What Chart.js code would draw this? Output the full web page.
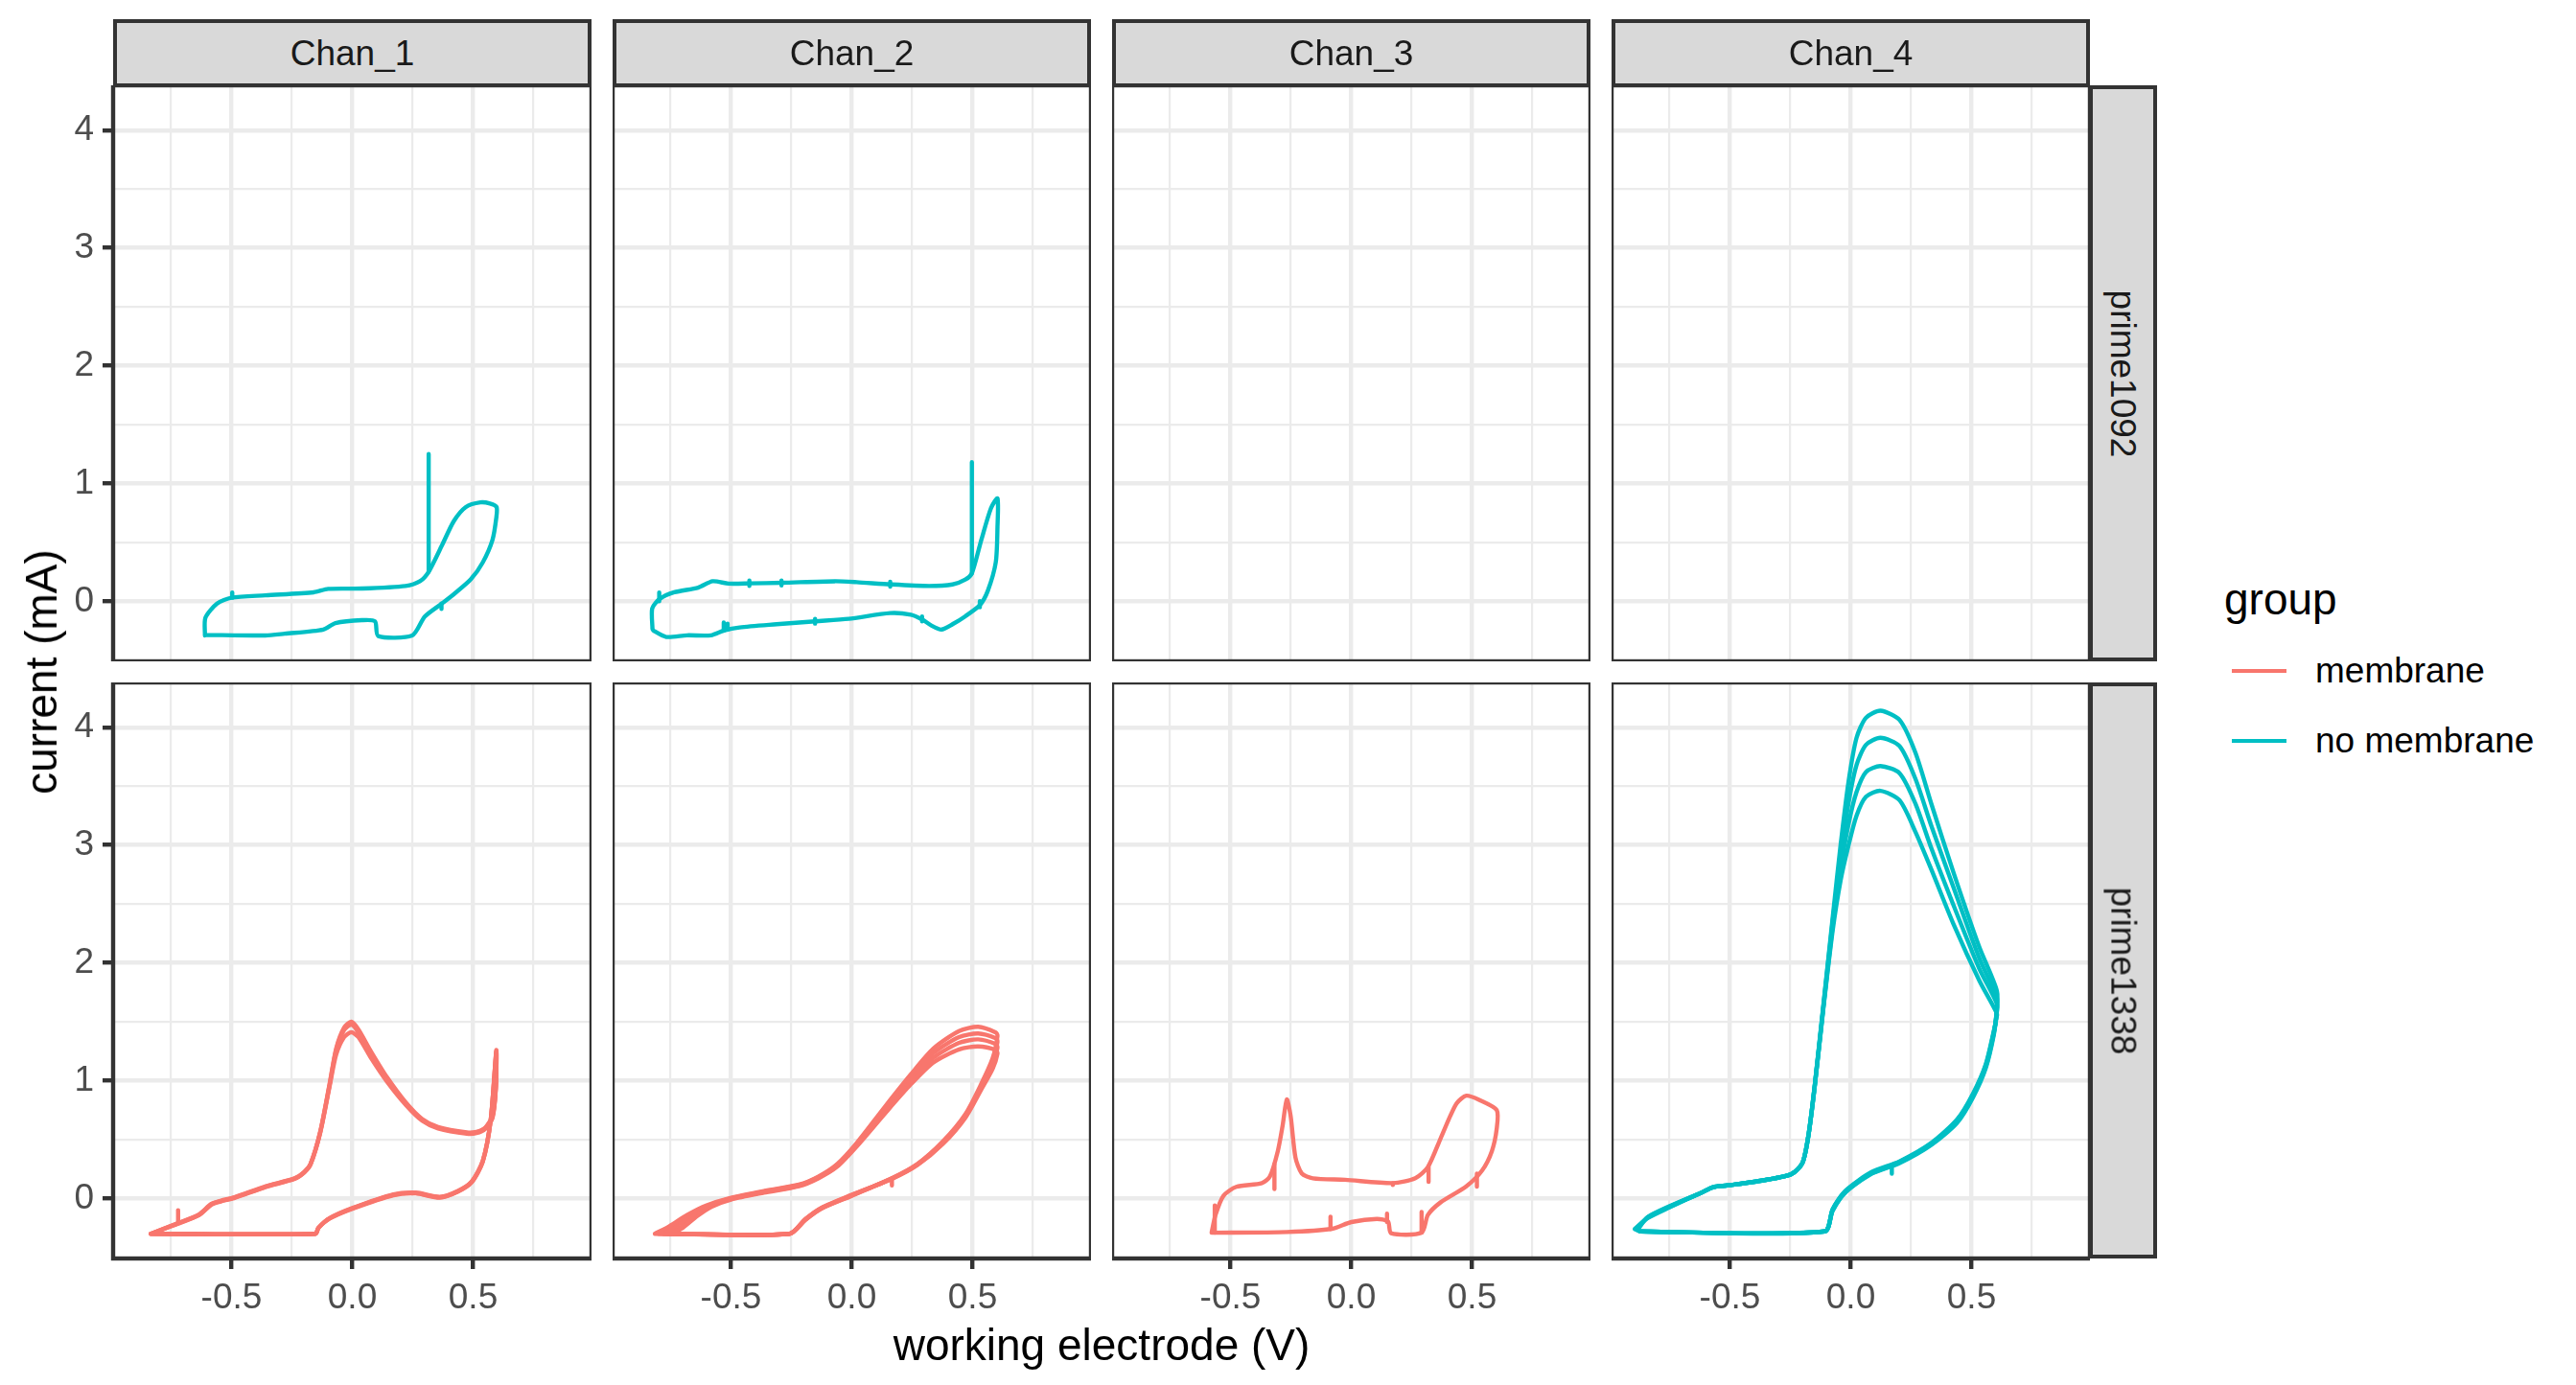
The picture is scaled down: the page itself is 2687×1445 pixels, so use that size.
<!DOCTYPE html>
<html>
<head>
<meta charset="utf-8">
<script src="https://cdn.jsdelivr.net/npm/chart.js@4.4.0/dist/chart.umd.min.js"></script>
<style>
  html, body { margin: 0; padding: 0; background: #fff; }
  body { width: 2687px; height: 1445px; position: relative; overflow: hidden;
         font-family: "Liberation Sans", Arial, Helvetica, sans-serif; }
  canvas { position: absolute; }
  .strip { position: absolute; box-sizing: border-box; background: #D9D9D9; border: 4px solid #333;
           color: #1A1A1A; font-size: 37px; display: flex; align-items: center; justify-content: center; }
  .strip.side span { transform: rotate(90deg); white-space: nowrap; }
  .txt { position: absolute; white-space: nowrap; color: #000; }
</style>
</head>
<body>
<script>
(function () {
  'use strict';

  const COLS = ['Chan_1', 'Chan_2', 'Chan_3', 'Chan_4'];
  const ROWS = ['prime1092', 'prime1338'];
  const GROUPS = ['membrane', 'no membrane'];
  const GROUP_COLORS = ['#F8766D', '#00BFC4'];
  const X_TICKS = [-0.75, -0.5, -0.25, 0, 0.25, 0.5, 0.75];
  const Y_TICKS = [0, 0.5, 1, 1.5, 2, 2.5, 3, 3.5, 4];

  // current (mA) vs working electrode (V)
  const chan1_1092 = [[-0.61,-0.29],[-0.608,-0.14],[-0.56,-0.02],[-0.50,0.03],[-0.36,0.05],[-0.16,0.076],[-0.10,0.105],[0.04,0.108],[0.22,0.13],[0.28,0.17],[0.316,0.25],[0.37,0.47],[0.42,0.68],[0.47,0.80],[0.53,0.84],[0.57,0.83],[0.597,0.80],[0.596,0.71],[0.58,0.52],[0.54,0.33],[0.49,0.185],[0.42,0.06],[0.37,-0.02],[0.30,-0.13],[0.248,-0.29],[0.107,-0.295],[0.094,-0.17],[0.04,-0.16],[-0.07,-0.185],[-0.12,-0.24],[-0.28,-0.275],[-0.36,-0.29],[-0.61,-0.285]];
  const chan1_1092_spikes = [[0.316,0.25,1.25],[-0.497,0.03,0.075],[0.369,-0.02,-0.065]];

  const chan2_1092 = [[-0.825,-0.235],[-0.826,-0.06],[-0.795,0.02],[-0.735,0.076],[-0.636,0.116],[-0.576,0.17],[-0.51,0.15],[-0.42,0.152],[-0.29,0.157],[-0.07,0.17],[0.02,0.162],[0.16,0.143],[0.32,0.13],[0.417,0.143],[0.47,0.184],[0.497,0.238],[0.536,0.52],[0.576,0.79],[0.603,0.873],[0.603,0.63],[0.596,0.332],[0.563,0.089],[0.53,-0.032],[0.47,-0.127],[0.417,-0.195],[0.371,-0.24],[0.331,-0.208],[0.291,-0.154],[0.245,-0.114],[0.159,-0.10],[-0.013,-0.149],[-0.152,-0.17],[-0.311,-0.195],[-0.464,-0.222],[-0.53,-0.249],[-0.583,-0.289],[-0.682,-0.289],[-0.768,-0.303],[-0.821,-0.249],[-0.825,-0.235]];
  const chan2_1092_spikes = [[0.497,0.238,1.18],[-0.797,0.0,0.075],[-0.424,0.13,0.175],[-0.291,0.135,0.175],[0.159,0.125,0.165],[-0.53,-0.25,-0.18],[-0.514,-0.24,-0.19],[0.53,-0.05,0.0],[-0.152,-0.19,-0.15],[0.291,-0.17,-0.13]];

  const chan1_1338_a = [[-0.834,-0.30],[-0.153,-0.30],[-0.14,-0.25],[-0.094,-0.168],[0,-0.082],[0.17,0.035],[0.263,0.049],[0.362,0.014],[0.435,0.062],[0.494,0.144],[0.54,0.32],[0.573,0.674],[0.596,1.258],[0.594,0.95],[0.58,0.70],[0.55,0.60],[0.514,0.565],[0.474,0.56],[0.355,0.606],[0.289,0.674],[0.223,0.81],[0.144,1.027],[0.078,1.245],[0.025,1.435],[-0.004,1.50],[-0.034,1.45],[-0.067,1.272],[-0.094,0.973],[-0.133,0.565],[-0.173,0.293],[-0.199,0.226],[-0.239,0.171],[-0.358,0.103],[-0.49,0.008],[-0.543,-0.019],[-0.583,-0.046],[-0.635,-0.136],[-0.721,-0.209],[-0.834,-0.30]];
  const chan1_1338_b = [[-0.834,-0.30],[-0.153,-0.30],[-0.14,-0.25],[-0.094,-0.17],[0,-0.085],[0.17,0.03],[0.263,0.045],[0.362,0.01],[0.435,0.058],[0.494,0.14],[0.54,0.315],[0.573,0.67],[0.596,1.25],[0.594,0.94],[0.58,0.69],[0.55,0.595],[0.514,0.56],[0.474,0.555],[0.355,0.60],[0.289,0.668],[0.223,0.80],[0.144,1.01],[0.078,1.22],[0.025,1.41],[-0.004,1.475],[-0.034,1.43],[-0.067,1.26],[-0.094,0.965],[-0.133,0.56],[-0.173,0.29],[-0.199,0.222],[-0.239,0.168],[-0.358,0.10],[-0.49,0.005],[-0.543,-0.022],[-0.583,-0.05],[-0.635,-0.14],[-0.721,-0.212],[-0.834,-0.30]];
  const chan1_1338_c = [[-0.834,-0.30],[-0.153,-0.30],[-0.14,-0.25],[-0.094,-0.172],[0,-0.088],[0.17,0.027],[0.263,0.042],[0.362,0.006],[0.435,0.055],[0.494,0.136],[0.54,0.31],[0.573,0.665],[0.596,1.24],[0.594,0.93],[0.58,0.68],[0.55,0.59],[0.514,0.555],[0.474,0.55],[0.355,0.594],[0.289,0.66],[0.223,0.79],[0.144,0.99],[0.078,1.19],[0.025,1.37],[-0.004,1.41],[-0.034,1.37],[-0.067,1.22],[-0.094,0.95],[-0.133,0.555],[-0.173,0.287],[-0.199,0.22],[-0.239,0.165],[-0.358,0.097],[-0.49,0.002],[-0.543,-0.025],[-0.583,-0.053],[-0.635,-0.143],[-0.721,-0.215],[-0.834,-0.30]];
  const chan1_1338_spikes = [[-0.721,-0.21,-0.10]];

  const chan2_1338_a = [[-0.815,-0.30],[-0.258,-0.30],[-0.192,-0.182],[-0.126,-0.087],[0,0.022],[0.166,0.171],[0.272,0.293],[0.377,0.484],[0.47,0.715],[0.536,0.973],[0.583,1.19],[0.603,1.38],[0.596,1.408],[0.523,1.457],[0.444,1.42],[0.338,1.272],[0.245,1.054],[0.139,0.783],[0.02,0.47],[-0.06,0.293],[-0.139,0.185],[-0.219,0.117],[-0.364,0.063],[-0.51,0],[-0.603,-0.06],[-0.682,-0.141],[-0.755,-0.236],[-0.815,-0.30]];
  const chan2_1338_b = [[-0.80,-0.30],[-0.258,-0.30],[-0.192,-0.18],[-0.126,-0.085],[0,0.025],[0.166,0.17],[0.272,0.29],[0.377,0.478],[0.47,0.705],[0.536,0.955],[0.583,1.16],[0.603,1.33],[0.596,1.36],[0.523,1.40],[0.444,1.37],[0.338,1.235],[0.245,1.03],[0.139,0.765],[0.02,0.46],[-0.06,0.285],[-0.139,0.18],[-0.219,0.113],[-0.364,0.058],[-0.51,-0.005],[-0.603,-0.07],[-0.67,-0.15],[-0.74,-0.25],[-0.80,-0.30]];
  const chan2_1338_c = [[-0.78,-0.30],[-0.258,-0.30],[-0.192,-0.178],[-0.126,-0.083],[0,0.028],[0.166,0.168],[0.272,0.287],[0.377,0.47],[0.47,0.695],[0.536,0.94],[0.583,1.13],[0.603,1.28],[0.596,1.31],[0.523,1.35],[0.444,1.32],[0.338,1.195],[0.245,1.0],[0.139,0.745],[0.02,0.45],[-0.06,0.278],[-0.139,0.175],[-0.219,0.108],[-0.364,0.053],[-0.51,-0.01],[-0.59,-0.07],[-0.65,-0.15],[-0.72,-0.26],[-0.78,-0.30]];
  const chan2_1338_d = [[-0.75,-0.30],[-0.258,-0.30],[-0.192,-0.175],[-0.126,-0.08],[0,0.03],[0.166,0.165],[0.272,0.283],[0.377,0.462],[0.47,0.685],[0.536,0.925],[0.583,1.10],[0.603,1.23],[0.596,1.26],[0.523,1.29],[0.444,1.265],[0.338,1.155],[0.245,0.97],[0.139,0.725],[0.02,0.44],[-0.06,0.27],[-0.139,0.17],[-0.219,0.103],[-0.364,0.048],[-0.50,-0.01],[-0.58,-0.07],[-0.64,-0.15],[-0.70,-0.25],[-0.75,-0.30]];
  const chan2_1338_spikes = [[0.166,0.17,0.11]];

  const chan3_1338 = [[-0.578,-0.29],[-0.562,-0.141],[-0.529,0.022],[-0.476,0.098],[-0.37,0.13],[-0.337,0.185],[-0.304,0.402],[-0.284,0.62],[-0.267,0.84],[-0.251,0.70],[-0.231,0.348],[-0.205,0.212],[-0.159,0.171],[-0.026,0.158],[0.172,0.13],[0.265,0.171],[0.317,0.266],[0.37,0.511],[0.41,0.701],[0.437,0.81],[0.476,0.872],[0.529,0.837],[0.602,0.75],[0.602,0.592],[0.582,0.402],[0.542,0.239],[0.476,0.103],[0.37,-0.033],[0.317,-0.141],[0.291,-0.291],[0.165,-0.296],[0.152,-0.196],[0.106,-0.174],[0,-0.201],[-0.079,-0.258],[-0.265,-0.285],[-0.578,-0.291]];
  const chan3_1338_spikes = [[-0.565,-0.29,-0.06],[-0.318,0.29,0.08],[0.32,0.27,0.14],[0.52,0.21,0.10],[0.291,-0.29,-0.115],[0.148,-0.20,-0.13],[-0.086,-0.26,-0.155],[0.172,0.13,0.115]];

  const chan4_1338_a = [[-0.894,-0.26],[-0.87,-0.28],[-0.108,-0.28],[-0.075,-0.106],[-0.022,0.05],[0.083,0.205],[0.202,0.299],[0.334,0.454],[0.44,0.641],[0.506,0.858],[0.559,1.107],[0.592,1.387],[0.603,1.574],[0.605,1.76],[0.532,2.134],[0.427,2.756],[0.334,3.347],[0.268,3.782],[0.202,4.062],[0.123,4.14],[0.063,4.08],[0.024,3.91],[-0.009,3.54],[-0.042,3.0],[-0.075,2.38],[-0.115,1.61],[-0.148,0.98],[-0.174,0.55],[-0.2,0.30],[-0.247,0.205],[-0.392,0.143],[-0.511,0.11],[-0.57,0.096],[-0.617,0.05],[-0.749,-0.075],[-0.841,-0.168],[-0.894,-0.26]];
  const chan4_1338_b = [[-0.89,-0.26],[-0.87,-0.28],[-0.108,-0.28],[-0.075,-0.10],[-0.022,0.055],[0.083,0.21],[0.202,0.305],[0.334,0.46],[0.44,0.65],[0.506,0.87],[0.559,1.12],[0.592,1.40],[0.603,1.56],[0.605,1.70],[0.532,2.04],[0.427,2.63],[0.334,3.16],[0.268,3.56],[0.202,3.84],[0.123,3.91],[0.063,3.85],[0.024,3.68],[-0.009,3.36],[-0.042,2.9],[-0.075,2.35],[-0.115,1.60],[-0.148,0.98],[-0.174,0.55],[-0.2,0.30],[-0.247,0.205],[-0.392,0.143],[-0.511,0.11],[-0.57,0.096],[-0.617,0.05],[-0.749,-0.07],[-0.841,-0.165],[-0.89,-0.26]];
  const chan4_1338_c = [[-0.885,-0.26],[-0.87,-0.28],[-0.108,-0.28],[-0.075,-0.095],[-0.022,0.06],[0.083,0.215],[0.202,0.31],[0.334,0.466],[0.44,0.66],[0.506,0.88],[0.559,1.13],[0.592,1.41],[0.603,1.55],[0.605,1.65],[0.532,1.95],[0.427,2.48],[0.334,2.97],[0.268,3.35],[0.202,3.61],[0.123,3.67],[0.063,3.62],[0.024,3.45],[-0.009,3.18],[-0.042,2.8],[-0.075,2.31],[-0.115,1.59],[-0.148,0.97],[-0.174,0.55],[-0.2,0.30],[-0.247,0.205],[-0.392,0.143],[-0.511,0.11],[-0.57,0.096],[-0.617,0.05],[-0.749,-0.07],[-0.841,-0.16],[-0.885,-0.26]];
  const chan4_1338_d = [[-0.88,-0.26],[-0.87,-0.28],[-0.108,-0.28],[-0.075,-0.09],[-0.022,0.065],[0.083,0.22],[0.202,0.315],[0.334,0.472],[0.44,0.67],[0.506,0.89],[0.559,1.14],[0.592,1.42],[0.603,1.53],[0.605,1.57],[0.532,1.85],[0.427,2.32],[0.334,2.79],[0.268,3.11],[0.202,3.38],[0.123,3.46],[0.063,3.41],[0.024,3.25],[-0.009,3.0],[-0.042,2.7],[-0.075,2.27],[-0.115,1.58],[-0.148,0.97],[-0.174,0.55],[-0.2,0.30],[-0.247,0.205],[-0.392,0.143],[-0.511,0.11],[-0.57,0.096],[-0.617,0.05],[-0.749,-0.065],[-0.841,-0.16],[-0.88,-0.26]];
  const chan4_1338_spikes = [[0.17,0.28,0.21]];

  // row, col, group index, curves, spikes
  const panels = [
    { row: 0, col: 0, g: 1, curves: [chan1_1092], spikes: chan1_1092_spikes },
    { row: 0, col: 1, g: 1, curves: [chan2_1092], spikes: chan2_1092_spikes },
    { row: 0, col: 2, g: 1, curves: [], spikes: [] },
    { row: 0, col: 3, g: 1, curves: [], spikes: [] },
    { row: 1, col: 0, g: 0, curves: [chan1_1338_a, chan1_1338_b, chan1_1338_c], spikes: chan1_1338_spikes },
    { row: 1, col: 1, g: 0, curves: [chan2_1338_a, chan2_1338_b, chan2_1338_c, chan2_1338_d], spikes: chan2_1338_spikes },
    { row: 1, col: 2, g: 0, curves: [chan3_1338], spikes: chan3_1338_spikes },
    { row: 1, col: 3, g: 1, curves: [chan4_1338_a, chan4_1338_b, chan4_1338_c, chan4_1338_d], spikes: chan4_1338_spikes },
  ];

  // layout (px)
  const COL_L = [118, 639, 1160, 1681];
  const ROW_T = [89, 712];
  const PW = 499, PH = 601;
  const AX = 118, AY = 72;
  const FONT = '"Liberation Sans", Arial, Helvetica, sans-serif';
  const LW = 4.4;

  const isMajorX = v => Math.abs(v * 2 - Math.round(v * 2)) < 1e-6;
  const isMajorY = v => Math.abs(v - Math.round(v)) < 1e-6;

  function curve(pts, color) {
    return {
      data: pts.map(p => ({ x: p[0], y: p[1] })),
      showLine: true, borderColor: color, borderWidth: LW, pointRadius: 0,
      tension: 0.25, fill: false, borderJoinStyle: 'round', borderCapStyle: 'round',
    };
  }

  function spikeSet(list, color) {
    const pts = [];
    list.forEach(s => { pts.push({ x: s[0], y: s[1] }, { x: s[0], y: s[2] }, { x: s[0], y: null }); });
    return {
      data: pts, showLine: true, spanGaps: false, borderColor: color, borderWidth: LW,
      pointRadius: 0, tension: 0, fill: false, borderCapStyle: 'round',
    };
  }

  const borderPlugin = {
    id: 'panelBorder',
    afterDraw(chart) {
      const a = chart.chartArea, ctx = chart.ctx;
      ctx.save();
      ctx.strokeStyle = '#333333';
      ctx.lineWidth = LW;
      ctx.strokeRect(a.left, a.top, a.right - a.left, a.bottom - a.top);
      ctx.restore();
    },
  };

  function zeroPad(s) { s.paddingTop = 0; s.paddingBottom = 0; s.paddingLeft = 0; s.paddingRight = 0; }

  panels.forEach(p => {
    const showY = p.col === 0, showX = p.row === 1;
    const cv = document.createElement('canvas');
    const w = PW + (showY ? AX : 0), h = PH + (showX ? AY : 0);
    cv.width = w; cv.height = h;
    cv.style.left = (COL_L[p.col] - (showY ? AX : 0)) + 'px';
    cv.style.top = ROW_T[p.row] + 'px';
    document.body.appendChild(cv);

    const color = GROUP_COLORS[p.g];
    const datasets = p.curves.map(c => curve(c, color));
    if (p.spikes.length) datasets.push(spikeSet(p.spikes, color));

    new Chart(cv, {
      type: 'scatter',
      data: { datasets },
      plugins: [borderPlugin],
      options: {
        responsive: false,
        animation: false,
        devicePixelRatio: 1,
        layout: { padding: 0 },
        plugins: { legend: { display: false }, tooltip: { enabled: false } },
        scales: {
          x: {
            type: 'linear', min: -0.99, max: 0.99,
            afterBuildTicks: s => { s.ticks = X_TICKS.map(v => ({ value: v })); },
            afterFit: s => { s.height = showX ? AY : 0; zeroPad(s); },
            border: { display: false },
            grid: {
              color: '#EBEBEB',
              lineWidth: c => isMajorX(c.tick.value) ? LW : LW / 2,
              drawTicks: showX, tickLength: 11,
              tickColor: c => isMajorX(c.tick.value) ? '#333333' : 'rgba(0,0,0,0)',
              tickWidth: LW,
            },
            ticks: {
              display: showX, autoSkip: false, maxRotation: 0, padding: 9,
              color: '#4D4D4D', font: { family: FONT, size: 37 },
              callback: v => isMajorX(v) ? v.toFixed(1) : '',
            },
          },
          y: {
            type: 'linear', min: -0.51, max: 4.38,
            afterBuildTicks: s => { s.ticks = Y_TICKS.map(v => ({ value: v })); },
            afterFit: s => { s.width = showY ? AX : 0; zeroPad(s); },
            border: { display: false },
            grid: {
              color: '#EBEBEB',
              lineWidth: c => isMajorY(c.tick.value) ? LW : LW / 2,
              drawTicks: showY, tickLength: 11,
              tickColor: c => isMajorY(c.tick.value) ? '#333333' : 'rgba(0,0,0,0)',
              tickWidth: LW,
            },
            ticks: {
              display: showY, autoSkip: false, padding: 9,
              color: '#4D4D4D', font: { family: FONT, size: 37 },
              callback: v => isMajorY(v) ? String(Math.round(v)) : '',
            },
          },
        },
      },
    });
  });

  function addDiv(cls, text, css) {
    const d = document.createElement('div');
    d.className = cls;
    if (cls.indexOf('side') >= 0) {
      const s = document.createElement('span'); s.textContent = text; d.appendChild(s);
    } else {
      d.textContent = text;
    }
    Object.assign(d.style, css);
    document.body.appendChild(d);
    return d;
  }

  // facet strips
  COLS.forEach((c, i) => addDiv('strip', c, { left: COL_L[i] + 'px', top: '20px', width: PW + 'px', height: '71px' }));
  ROWS.forEach((r, i) => addDiv('strip side', r, { left: '2179px', top: ROW_T[i] + 'px', width: '71px', height: PH + 'px' }));

  // axis titles
  addDiv('txt', 'working electrode (V)', { left: (COL_L[0] + (COL_L[3] + PW - COL_L[0]) / 2) + 'px', top: '1403px',
    fontSize: '46px', transform: 'translate(-50%, -50%)' });
  addDiv('txt', 'current (mA)', { left: '43px', top: ((ROW_T[0] + ROW_T[1] + PH) / 2) + 'px',
    fontSize: '46px', transform: 'translate(-50%, -50%) rotate(-90deg)' });

  // legend
  addDiv('txt', 'group', { left: '2320px', top: '625px', fontSize: '46px', transform: 'translateY(-50%)' });
  [700, 773].forEach((y, i) => {
    const k = document.createElement('div');
    Object.assign(k.style, { position: 'absolute', left: '2328px', top: (y - 2) + 'px', width: '57px', height: '4.4px', background: GROUP_COLORS[i] });
    document.body.appendChild(k);
    addDiv('txt', GROUPS[i], { left: '2415px', top: y + 'px', fontSize: '37px', transform: 'translateY(-50%)' });
  });
})();
</script>
</body>
</html>
